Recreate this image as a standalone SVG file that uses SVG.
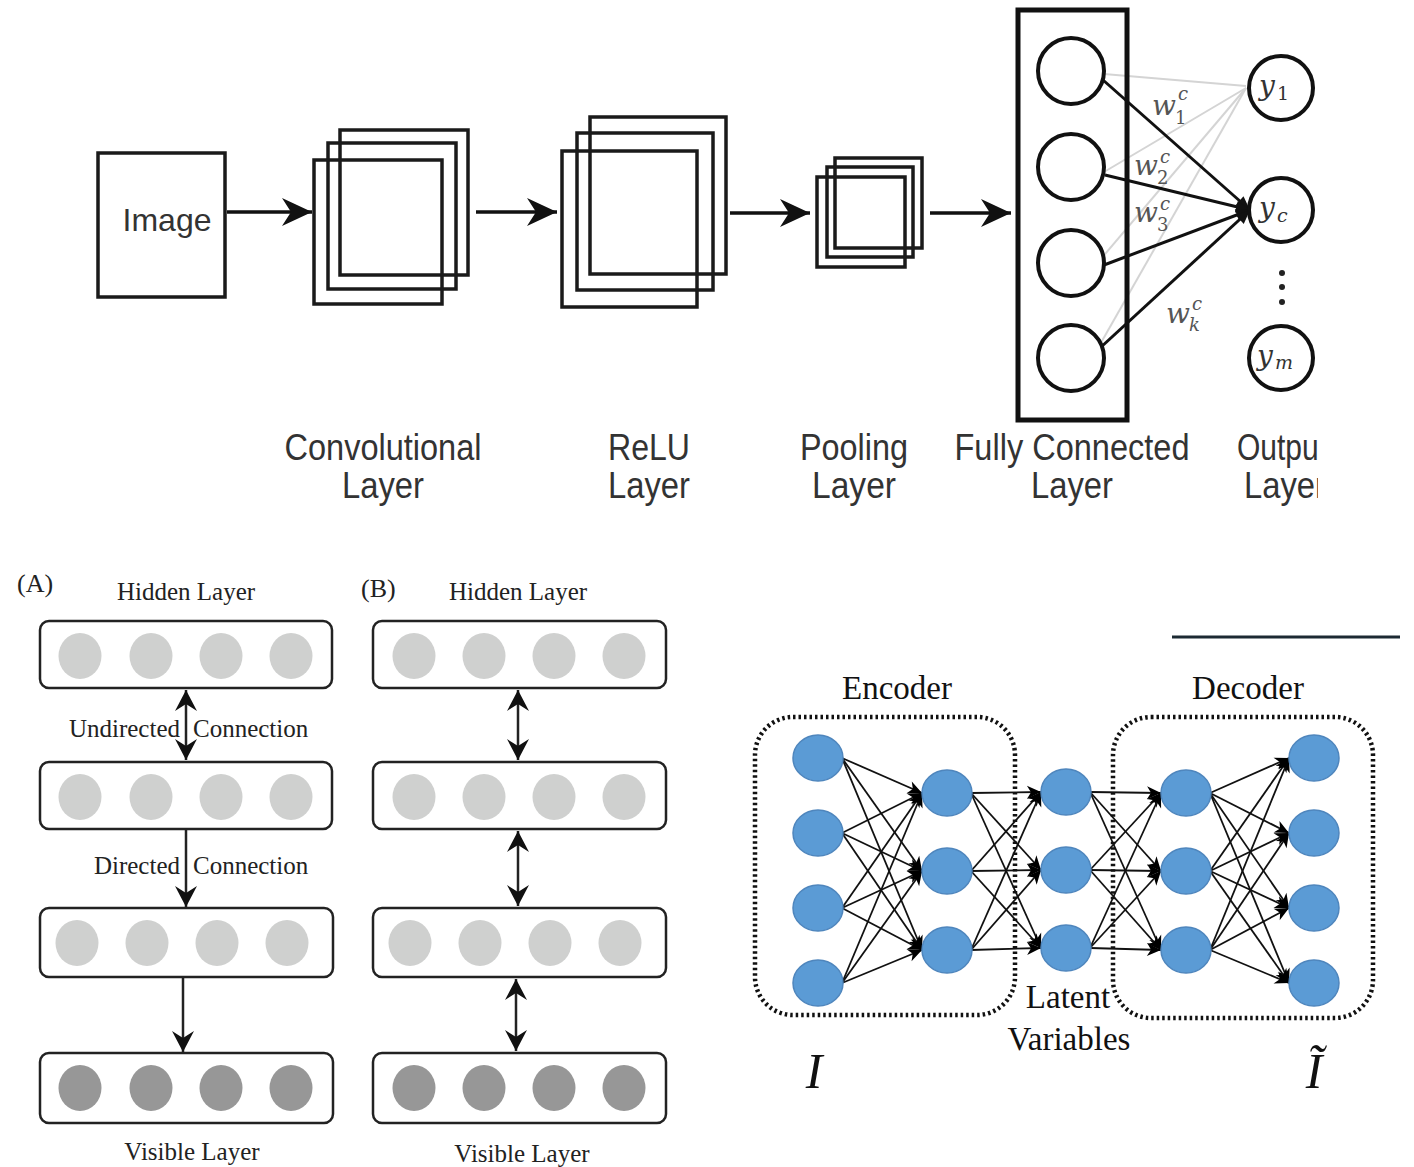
<svg xmlns="http://www.w3.org/2000/svg" width="1414" height="1167" viewBox="0 0 1414 1167">
<style>
.cnnbox{fill:none;stroke:#1a1a1a;stroke-width:3.5}
.lbl{font-family:"Liberation Sans",Arial,sans-serif;font-size:36px;fill:#333;text-anchor:middle}
.conn{stroke:#111;stroke-width:3.5;fill:none}
.fcn{fill:#fff;stroke:#111;stroke-width:4}
.wl{font-family:"DejaVu Serif",serif;font-style:italic;font-size:28px;fill:#555}
.ws{font-family:"DejaVu Serif",serif;font-style:italic;font-size:18px;fill:#555}
.wn{font-family:"DejaVu Serif",serif;font-size:18px;fill:#555}
.yl{font-family:"DejaVu Serif",serif;font-style:italic;font-size:28px;fill:#333}
.ys{font-family:"DejaVu Serif",serif;font-size:19px;fill:#333}
.ysi{font-family:"DejaVu Serif",serif;font-style:italic;font-size:19px;fill:#333}
.ser{font-family:"Liberation Serif","Times New Roman",serif;font-size:25px;fill:#222}
.layer{fill:#fff;stroke:#222;stroke-width:2.5}
.hid{fill:#cfd0cf}
.vis{fill:#979797}
.dbn{stroke:#222;stroke-width:2.5;fill:none}
.aen{fill:#5b9bd5;stroke:#4f86bd;stroke-width:1.5}
.ae{stroke:#111;stroke-width:1.8;fill:none}
.dot{fill:none;stroke:#111;stroke-width:4.5;stroke-dasharray:2.5 3}
.aet{font-family:"Liberation Serif","Times New Roman",serif;font-size:33px;fill:#111;text-anchor:middle}
</style>
<defs>
<marker id="big" viewBox="-32 -16 34 32" refX="0" refY="0" markerWidth="34" markerHeight="32" markerUnits="userSpaceOnUse" orient="auto"><path d="M0,0 L-30,-14 L-21,0 L-30,14 Z" fill="#111"/></marker>
<marker id="fc" viewBox="-16 -8 18 16" refX="0" refY="0" markerWidth="18" markerHeight="16" markerUnits="userSpaceOnUse" orient="auto"><path d="M0,0 L-14,-6 L-14,6 Z" fill="#111"/></marker>
<marker id="db" viewBox="-24 -13 26 26" refX="0" refY="0" markerWidth="26" markerHeight="26" markerUnits="userSpaceOnUse" orient="auto-start-reverse"><path d="M0,0 L-21,-11 L-14,0 L-21,11 Z" fill="#111"/></marker>
<marker id="ae" viewBox="-16 -8 18 16" refX="0" refY="0" markerWidth="18" markerHeight="16" markerUnits="userSpaceOnUse" orient="auto"><path d="M0,0 L-14,-6.5 L-10,0 L-14,6.5 Z" fill="#000"/></marker>
<clipPath id="outclip"><rect x="0" y="0" width="1318" height="1167"/></clipPath>
</defs>
<rect width="1414" height="1167" fill="#fff"/>

<g id="cnn-connectors">
<line class="conn" x1="227" y1="212" x2="312" y2="212" marker-end="url(#big)"/>
<line class="conn" x1="476" y1="212" x2="557" y2="212" marker-end="url(#big)"/>
<line class="conn" x1="730" y1="213" x2="810" y2="213" marker-end="url(#big)"/>
<line class="conn" x1="930" y1="213" x2="1011" y2="213" marker-end="url(#big)"/>
</g>

<g id="image">
<rect class="cnnbox" x="98" y="153" width="127" height="144"/>
<text x="167" y="231" font-family="Liberation Sans,Arial,sans-serif" font-size="32" fill="#333" text-anchor="middle">Image</text>
</g>
<g id="conv">
<rect class="cnnbox" x="340" y="130" width="128" height="145"/>
<rect class="cnnbox" x="328" y="143" width="128" height="146"/>
<rect class="cnnbox" x="314" y="160" width="128" height="144"/>
</g>
<g id="relu">
<rect class="cnnbox" x="590" y="117" width="136" height="157"/>
<rect class="cnnbox" x="577" y="133" width="136" height="157"/>
<rect class="cnnbox" x="562" y="151" width="135" height="156"/>
</g>
<g id="pool">
<rect class="cnnbox" x="835" y="158" width="87" height="90"/>
<rect class="cnnbox" x="827" y="167" width="86" height="90"/>
<rect class="cnnbox" x="817" y="177" width="88" height="90"/>
</g>

<g id="fc-connectors">
<g stroke="#d4d4d4" stroke-width="2" fill="none">
<line x1="1104" y1="74" x2="1246" y2="86"/>
<line x1="1104" y1="172" x2="1246" y2="88"/>
<line x1="1100" y1="260" x2="1246" y2="88"/>
<line x1="1098" y1="348" x2="1246" y2="88"/>
</g>
<g stroke="#111" stroke-width="3" fill="none">
<line x1="1103" y1="80" x2="1250" y2="210" marker-end="url(#fc)"/>
<line x1="1105" y1="175" x2="1250" y2="210" marker-end="url(#fc)"/>
<line x1="1104" y1="265" x2="1250" y2="210" marker-end="url(#fc)"/>
<line x1="1100" y1="348" x2="1250" y2="210" marker-end="url(#fc)"/>
</g>
</g>
<g id="fc">
<rect x="1018" y="10" width="109" height="410" fill="none" stroke="#111" stroke-width="5"/>
<circle class="fcn" cx="1071" cy="71" r="33"/>
<circle class="fcn" cx="1071" cy="167" r="33"/>
<circle class="fcn" cx="1071" cy="263" r="33"/>
<circle class="fcn" cx="1071" cy="358" r="33"/>
</g>
<g id="weights">
<text class="wl" x="1152" y="115">w</text><text class="ws" x="1178" y="100">c</text><text class="wn" x="1175" y="124">1</text>
<text class="wl" x="1134" y="175">w</text><text class="ws" x="1160" y="163">c</text><text class="wn" x="1157" y="184">2</text>
<text class="wl" x="1134" y="222">w</text><text class="ws" x="1160" y="210">c</text><text class="wn" x="1157" y="231">3</text>
<text class="wl" x="1166" y="323">w</text><text class="ws" x="1192" y="310">c</text><text class="ws" x="1189" y="331">k</text>
</g>
<g id="out-y1"><circle class="fcn" cx="1281" cy="88" r="32"/><text class="yl" x="1259" y="95">y</text><text class="ys" x="1277" y="100">1</text></g>
<g id="out-yc"><circle class="fcn" cx="1281" cy="210" r="32"/><text class="yl" x="1259" y="217">y</text><text class="ysi" x="1277" y="222">c</text></g>
<g id="out-dots"><circle cx="1282" cy="273" r="3" fill="#222"/><circle cx="1282" cy="287" r="3" fill="#222"/><circle cx="1282" cy="302" r="3" fill="#222"/></g>
<g id="out-ym"><circle class="fcn" cx="1281" cy="358" r="32"/><text class="yl" x="1257" y="365">y</text><text class="ysi" x="1275" y="369">m</text></g>

<g id="cnn-labels">
<text class="lbl" x="383" y="460" textLength="197" lengthAdjust="spacingAndGlyphs">Convolutional</text>
<text class="lbl" x="383" y="498" textLength="82" lengthAdjust="spacingAndGlyphs">Layer</text>
<text class="lbl" x="649" y="460" textLength="82" lengthAdjust="spacingAndGlyphs">ReLU</text>
<text class="lbl" x="649" y="498" textLength="82" lengthAdjust="spacingAndGlyphs">Layer</text>
<text class="lbl" x="854" y="460" textLength="108" lengthAdjust="spacingAndGlyphs">Pooling</text>
<text class="lbl" x="854" y="498" textLength="84" lengthAdjust="spacingAndGlyphs">Layer</text>
<text class="lbl" x="1072" y="460" textLength="235" lengthAdjust="spacingAndGlyphs">Fully Connected</text>
<text class="lbl" x="1072" y="498" textLength="82" lengthAdjust="spacingAndGlyphs">Layer</text>
<g clip-path="url(#outclip)">
<text class="lbl" x="1282" y="460" textLength="90" lengthAdjust="spacingAndGlyphs">Output</text>
<text class="lbl" x="1285" y="498" textLength="82" lengthAdjust="spacingAndGlyphs">Layer</text>
</g>
</g>

<g id="dbn-a-connectors">
<line class="dbn" x1="186" y1="690" x2="186" y2="760" marker-start="url(#db)" marker-end="url(#db)"/>
<line class="dbn" x1="186" y1="829" x2="186" y2="907" marker-end="url(#db)"/>
<line class="dbn" x1="183" y1="977" x2="183" y2="1052" marker-end="url(#db)"/>
</g>
<g id="dbn-a-texts">
<text class="ser" x="17" y="592" style="font-size:26px">(A)</text>
<text class="ser" x="186" y="600" text-anchor="middle">Hidden Layer</text>
<text class="ser" x="180" y="737" text-anchor="end">Undirected</text>
<text class="ser" x="193" y="737">Connection</text>
<text class="ser" x="180" y="874" text-anchor="end">Directed</text>
<text class="ser" x="193" y="874">Connection</text>
<text class="ser" x="192" y="1160" text-anchor="middle">Visible Layer</text>
</g>
<g id="dbn-a-h1"><rect class="layer" x="40" y="621" width="292" height="67" rx="9"/><ellipse class="hid" cx="80" cy="656" rx="21.5" ry="23"/><ellipse class="hid" cx="151" cy="656" rx="21.5" ry="23"/><ellipse class="hid" cx="221" cy="656" rx="21.5" ry="23"/><ellipse class="hid" cx="291" cy="656" rx="21.5" ry="23"/></g>
<g id="dbn-a-h2"><rect class="layer" x="40" y="762" width="292" height="67" rx="9"/><ellipse class="hid" cx="80" cy="797" rx="21.5" ry="23"/><ellipse class="hid" cx="151" cy="797" rx="21.5" ry="23"/><ellipse class="hid" cx="221" cy="797" rx="21.5" ry="23"/><ellipse class="hid" cx="291" cy="797" rx="21.5" ry="23"/></g>
<g id="dbn-a-h3"><rect class="layer" x="40" y="908" width="293" height="69" rx="9"/><ellipse class="hid" cx="77" cy="943" rx="21.5" ry="23"/><ellipse class="hid" cx="147" cy="943" rx="21.5" ry="23"/><ellipse class="hid" cx="217" cy="943" rx="21.5" ry="23"/><ellipse class="hid" cx="287" cy="943" rx="21.5" ry="23"/></g>
<g id="dbn-a-v"><rect class="layer" x="40" y="1053" width="293" height="70" rx="9"/><ellipse class="vis" cx="80" cy="1088" rx="21.5" ry="23"/><ellipse class="vis" cx="151" cy="1088" rx="21.5" ry="23"/><ellipse class="vis" cx="221" cy="1088" rx="21.5" ry="23"/><ellipse class="vis" cx="291" cy="1088" rx="21.5" ry="23"/></g>

<g id="dbn-b-connectors">
<line class="dbn" x1="518" y1="690" x2="518" y2="760" marker-start="url(#db)" marker-end="url(#db)"/>
<line class="dbn" x1="518" y1="831" x2="518" y2="906" marker-start="url(#db)" marker-end="url(#db)"/>
<line class="dbn" x1="516" y1="979" x2="516" y2="1051" marker-start="url(#db)" marker-end="url(#db)"/>
</g>
<g id="dbn-b-texts">
<text class="ser" x="361" y="597" style="font-size:26px">(B)</text>
<text class="ser" x="518" y="600" text-anchor="middle">Hidden Layer</text>
<text class="ser" x="522" y="1162" text-anchor="middle">Visible Layer</text>
</g>
<g id="dbn-b-h1"><rect class="layer" x="373" y="621" width="293" height="67" rx="9"/><ellipse class="hid" cx="414" cy="656" rx="21.5" ry="23"/><ellipse class="hid" cx="484" cy="656" rx="21.5" ry="23"/><ellipse class="hid" cx="554" cy="656" rx="21.5" ry="23"/><ellipse class="hid" cx="624" cy="656" rx="21.5" ry="23"/></g>
<g id="dbn-b-h2"><rect class="layer" x="373" y="762" width="293" height="67" rx="9"/><ellipse class="hid" cx="414" cy="797" rx="21.5" ry="23"/><ellipse class="hid" cx="484" cy="797" rx="21.5" ry="23"/><ellipse class="hid" cx="554" cy="797" rx="21.5" ry="23"/><ellipse class="hid" cx="624" cy="797" rx="21.5" ry="23"/></g>
<g id="dbn-b-h3"><rect class="layer" x="373" y="908" width="293" height="69" rx="9"/><ellipse class="hid" cx="410" cy="943" rx="21.5" ry="23"/><ellipse class="hid" cx="480" cy="943" rx="21.5" ry="23"/><ellipse class="hid" cx="550" cy="943" rx="21.5" ry="23"/><ellipse class="hid" cx="620" cy="943" rx="21.5" ry="23"/></g>
<g id="dbn-b-v"><rect class="layer" x="373" y="1053" width="293" height="70" rx="9"/><ellipse class="vis" cx="414" cy="1088" rx="21.5" ry="23"/><ellipse class="vis" cx="484" cy="1088" rx="21.5" ry="23"/><ellipse class="vis" cx="554" cy="1088" rx="21.5" ry="23"/><ellipse class="vis" cx="624" cy="1088" rx="21.5" ry="23"/></g>

<line x1="1172" y1="637" x2="1400" y2="637" stroke="#1c2a33" stroke-width="3"/>
<g id="ae-boxes">
<rect class="dot" x="755" y="717" width="260" height="298" rx="38"/>
<rect class="dot" x="1113" y="717" width="260" height="301" rx="38"/>
</g>
<g id="ae-connectors">
<line class="ae" x1="842" y1="758" x2="922" y2="793" marker-end="url(#ae)"/>
<line class="ae" x1="842" y1="758" x2="922" y2="871" marker-end="url(#ae)"/>
<line class="ae" x1="842" y1="758" x2="922" y2="950" marker-end="url(#ae)"/>
<line class="ae" x1="842" y1="833" x2="922" y2="793" marker-end="url(#ae)"/>
<line class="ae" x1="842" y1="833" x2="922" y2="871" marker-end="url(#ae)"/>
<line class="ae" x1="842" y1="833" x2="922" y2="950" marker-end="url(#ae)"/>
<line class="ae" x1="842" y1="908" x2="922" y2="793" marker-end="url(#ae)"/>
<line class="ae" x1="842" y1="908" x2="922" y2="871" marker-end="url(#ae)"/>
<line class="ae" x1="842" y1="908" x2="922" y2="950" marker-end="url(#ae)"/>
<line class="ae" x1="842" y1="983" x2="922" y2="793" marker-end="url(#ae)"/>
<line class="ae" x1="842" y1="983" x2="922" y2="871" marker-end="url(#ae)"/>
<line class="ae" x1="842" y1="983" x2="922" y2="950" marker-end="url(#ae)"/>
<line class="ae" x1="971" y1="793" x2="1041" y2="792" marker-end="url(#ae)"/>
<line class="ae" x1="971" y1="793" x2="1041" y2="870" marker-end="url(#ae)"/>
<line class="ae" x1="971" y1="793" x2="1041" y2="948" marker-end="url(#ae)"/>
<line class="ae" x1="971" y1="871" x2="1041" y2="792" marker-end="url(#ae)"/>
<line class="ae" x1="971" y1="871" x2="1041" y2="870" marker-end="url(#ae)"/>
<line class="ae" x1="971" y1="871" x2="1041" y2="948" marker-end="url(#ae)"/>
<line class="ae" x1="971" y1="950" x2="1041" y2="792" marker-end="url(#ae)"/>
<line class="ae" x1="971" y1="950" x2="1041" y2="870" marker-end="url(#ae)"/>
<line class="ae" x1="971" y1="950" x2="1041" y2="948" marker-end="url(#ae)"/>
<line class="ae" x1="1090" y1="792" x2="1161" y2="793" marker-end="url(#ae)"/>
<line class="ae" x1="1090" y1="792" x2="1161" y2="871" marker-end="url(#ae)"/>
<line class="ae" x1="1090" y1="792" x2="1161" y2="950" marker-end="url(#ae)"/>
<line class="ae" x1="1090" y1="870" x2="1161" y2="793" marker-end="url(#ae)"/>
<line class="ae" x1="1090" y1="870" x2="1161" y2="871" marker-end="url(#ae)"/>
<line class="ae" x1="1090" y1="870" x2="1161" y2="950" marker-end="url(#ae)"/>
<line class="ae" x1="1090" y1="948" x2="1161" y2="793" marker-end="url(#ae)"/>
<line class="ae" x1="1090" y1="948" x2="1161" y2="871" marker-end="url(#ae)"/>
<line class="ae" x1="1090" y1="948" x2="1161" y2="950" marker-end="url(#ae)"/>
<line class="ae" x1="1210" y1="793" x2="1289" y2="758" marker-end="url(#ae)"/>
<line class="ae" x1="1210" y1="793" x2="1289" y2="833" marker-end="url(#ae)"/>
<line class="ae" x1="1210" y1="793" x2="1289" y2="908" marker-end="url(#ae)"/>
<line class="ae" x1="1210" y1="793" x2="1289" y2="983" marker-end="url(#ae)"/>
<line class="ae" x1="1210" y1="871" x2="1289" y2="758" marker-end="url(#ae)"/>
<line class="ae" x1="1210" y1="871" x2="1289" y2="833" marker-end="url(#ae)"/>
<line class="ae" x1="1210" y1="871" x2="1289" y2="908" marker-end="url(#ae)"/>
<line class="ae" x1="1210" y1="871" x2="1289" y2="983" marker-end="url(#ae)"/>
<line class="ae" x1="1210" y1="950" x2="1289" y2="758" marker-end="url(#ae)"/>
<line class="ae" x1="1210" y1="950" x2="1289" y2="833" marker-end="url(#ae)"/>
<line class="ae" x1="1210" y1="950" x2="1289" y2="908" marker-end="url(#ae)"/>
<line class="ae" x1="1210" y1="950" x2="1289" y2="983" marker-end="url(#ae)"/>
</g>
<g id="ae-input">
<ellipse class="aen" cx="818" cy="758" rx="25" ry="23"/><ellipse class="aen" cx="818" cy="833" rx="25" ry="23"/><ellipse class="aen" cx="818" cy="908" rx="25" ry="23"/><ellipse class="aen" cx="818" cy="983" rx="25" ry="23"/>
</g>
<g id="ae-enc">
<ellipse class="aen" cx="947" cy="793" rx="25" ry="23"/><ellipse class="aen" cx="947" cy="871" rx="25" ry="23"/><ellipse class="aen" cx="947" cy="950" rx="25" ry="23"/>
</g>
<g id="ae-latent">
<ellipse class="aen" cx="1066" cy="792" rx="25" ry="23"/><ellipse class="aen" cx="1066" cy="870" rx="25" ry="23"/><ellipse class="aen" cx="1066" cy="948" rx="25" ry="23"/>
</g>
<g id="ae-dec">
<ellipse class="aen" cx="1186" cy="793" rx="25" ry="23"/><ellipse class="aen" cx="1186" cy="871" rx="25" ry="23"/><ellipse class="aen" cx="1186" cy="950" rx="25" ry="23"/>
</g>
<g id="ae-output">
<ellipse class="aen" cx="1314" cy="758" rx="25" ry="23"/><ellipse class="aen" cx="1314" cy="833" rx="25" ry="23"/><ellipse class="aen" cx="1314" cy="908" rx="25" ry="23"/><ellipse class="aen" cx="1314" cy="983" rx="25" ry="23"/>
</g>
<g id="ae-texts">
<text class="aet" x="897" y="699">Encoder</text>
<text class="aet" x="1248" y="699">Decoder</text>
<text class="aet" x="1068" y="1008">Latent</text>
<text class="aet" x="1069" y="1050">Variables</text>
<text class="aet" x="814" y="1088" style="font-style:italic;font-size:50px">I</text>
<text class="aet" x="1314" y="1088" style="font-style:italic;font-size:50px">Ĩ</text>
</g>
</svg>
